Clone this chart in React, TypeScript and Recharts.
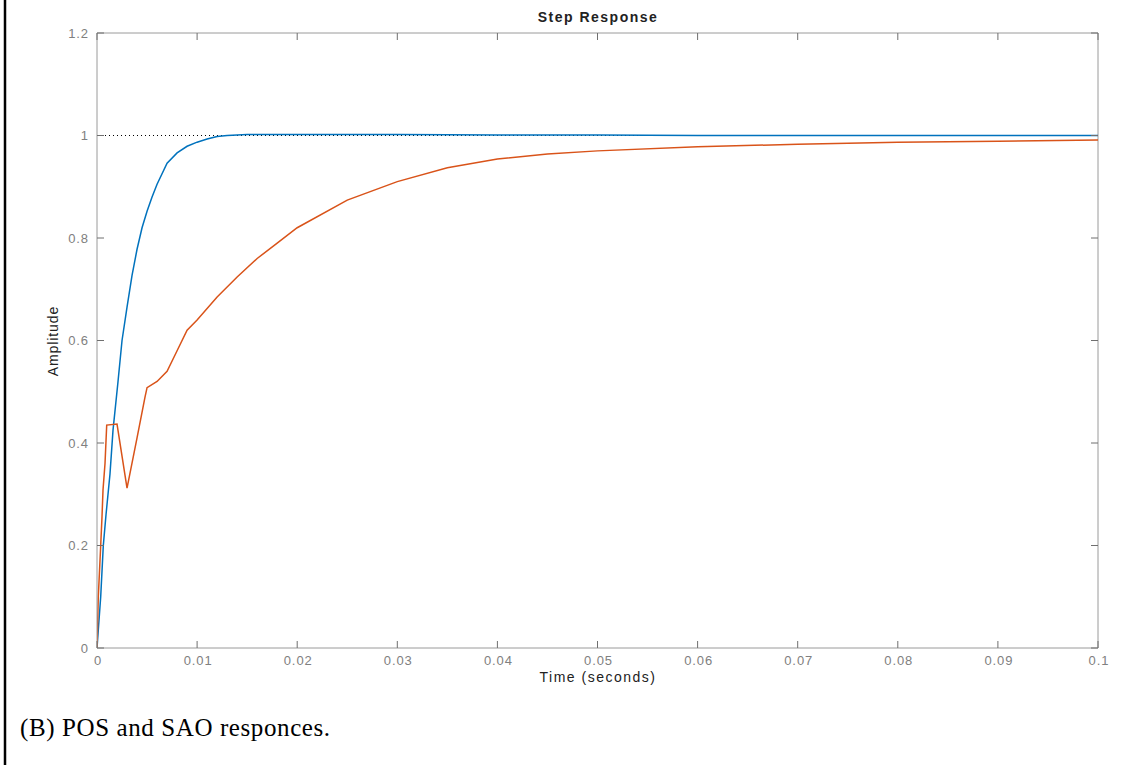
import React from "react";
import { LineChart, Line, XAxis, YAxis, ReferenceLine } from "recharts";

// ---- data ----
const posTime = [0, 0.00013, 0.00037, 0.00063, 0.0009, 0.0013, 0.0016, 0.0021, 0.0025, 0.003, 0.0035, 0.004, 0.0045, 0.005, 0.0055, 0.006, 0.007, 0.008, 0.009, 0.01, 0.011, 0.012, 0.013, 0.015, 0.02, 0.03, 0.04, 0.05, 0.06, 0.07, 0.08, 0.09, 0.1];
const posValue = [0, 0.035, 0.1, 0.2, 0.26, 0.34, 0.425, 0.52, 0.6, 0.665, 0.727, 0.778, 0.82, 0.852, 0.88, 0.905, 0.946, 0.966, 0.979, 0.987, 0.993, 0.998, 1.0, 1.002, 1.002, 1.002, 1.001, 1.001, 1.0, 1.0, 1.0, 1.0, 1.0];

const saoTime = [0, 0.00013, 0.00037, 0.0005, 0.0006, 0.0008, 0.00097, 0.002, 0.003, 0.004, 0.0048, 0.005, 0.006, 0.007, 0.008, 0.009, 0.01, 0.012, 0.014, 0.016, 0.018, 0.02, 0.025, 0.03, 0.035, 0.04, 0.045, 0.05, 0.06, 0.07, 0.08, 0.09, 0.1];
const saoValue = [0, 0.1, 0.2, 0.256, 0.308, 0.36, 0.435, 0.437, 0.312, 0.41, 0.49, 0.508, 0.52, 0.54, 0.58, 0.62, 0.64, 0.685, 0.724, 0.76, 0.79, 0.82, 0.874, 0.91, 0.937, 0.954, 0.964, 0.97, 0.978, 0.983, 0.987, 0.989, 0.991];

const referenceLevel = 1;
const referenceEnd = 0.077;

const xMax = 0.1;
const yMax = 1.2;
const xTicks = [0, 0.01, 0.02, 0.03, 0.04, 0.05, 0.06, 0.07, 0.08, 0.09, 0.1];
const xTickLabels = ["0", "0.01", "0.02", "0.03", "0.04", "0.05", "0.06", "0.07", "0.08", "0.09", "0.1"];
const yTicks = [0, 0.2, 0.4, 0.6, 0.8, 1, 1.2];
const yTickLabels = ["0", "0.2", "0.4", "0.6", "0.8", "1", "1.2"];

const titleText = "Step Response";
const xLabelText = "Time (seconds)";
const yLabelText = "Amplitude";
const captionText = "(B) POS and SAO responces.";

const posData = posTime.map((t, i) => ({ t, v: posValue[i] }));
const saoData = saoTime.map((t, i) => ({ t, v: saoValue[i] }));

const W = 1134;
const H = 767;
const M = { top: 33, right: 36, bottom: 89, left: 37 };
const Y_AXIS_W = 60;
const X_AXIS_H = 30;
const PLOT_W = W - M.left - M.right - Y_AXIS_W; // 1001
const PLOT_H = H - M.top - M.bottom - X_AXIS_H; // 615

const AXIS = "#9a9a9a";
const TICKLINE = "#6f6f6f";
const TICKTXT = "#808080";
const FONT = "'Liberation Sans', Arial, sans-serif";
const TL = 7; // inward tick length
const MB = 17; // bottom label margin
const ML = 8; // left label margin

const labelAt = (list: number[], labels: string[], v: number) => {
  let best = 0;
  list.forEach((t, i) => {
    if (Math.abs(t - v) < Math.abs(list[best] - v)) best = i;
  });
  return labels[best];
};

const BottomTick = (props: any) => {
  const { x, y, payload } = props;
  const ay = y - MB;
  const ty = ay - PLOT_H;
  return (
    <g>
      <line x1={x} y1={ay} x2={x} y2={ay - TL} stroke={TICKLINE} strokeWidth={1} />
      <line x1={x} y1={ty} x2={x} y2={ty + TL} stroke={TICKLINE} strokeWidth={1} />
      <text x={x + 1} y={y} textAnchor="middle" fill={TICKTXT} fontSize={13} fontFamily={FONT} letterSpacing={0.9}>
        {labelAt(xTicks, xTickLabels, payload.value)}
      </text>
    </g>
  );
};

const LeftTick = (props: any) => {
  const { x, y, payload } = props;
  const ax = x + ML;
  const rx = ax + PLOT_W;
  return (
    <g>
      <line x1={ax} y1={y} x2={ax + TL} y2={y} stroke={TICKLINE} strokeWidth={1} />
      <line x1={rx} y1={y} x2={rx - TL} y2={y} stroke={TICKLINE} strokeWidth={1} />
      <text x={x} y={y + 4.5} textAnchor="end" fill={TICKTXT} fontSize={13} fontFamily={FONT} letterSpacing={0.9}>
        {labelAt(yTicks, yTickLabels, payload.value)}
      </text>
    </g>
  );
};

export default function App() {
  return (
    <div style={{ position: "absolute", left: 0, top: 0, width: W, height: H, background: "#fff", overflow: "hidden" }}>
      <LineChart width={W} height={H} data={posData} margin={M}>
        <XAxis
          dataKey="t"
          type="number"
          domain={[0, xMax]}
          ticks={xTicks}
          allowDataOverflow
          height={X_AXIS_H}
          tickSize={0}
          tickMargin={MB}
          axisLine={{ stroke: AXIS }}
          tickLine={false}
          tick={(p: any) => <BottomTick {...p} />}
          interval={0}
        />
        <YAxis
          type="number"
          domain={[0, yMax]}
          ticks={yTicks}
          allowDataOverflow
          width={Y_AXIS_W}
          tickSize={0}
          tickMargin={ML}
          axisLine={{ stroke: AXIS }}
          tickLine={false}
          tick={(p: any) => <LeftTick {...p} />}
          interval={0}
        />
        <ReferenceLine y={yMax} stroke={AXIS} strokeWidth={1} />
        <ReferenceLine x={xMax} stroke={AXIS} strokeWidth={1} />
        <ReferenceLine
          segment={[{ x: 0, y: referenceLevel }, { x: referenceEnd, y: referenceLevel }]}
          stroke="#000"
          strokeDasharray="1 3"
          strokeWidth={1}
        />
        <Line data={posData} dataKey="v" type="linear" stroke="#0072BD" strokeWidth={1.5} dot={false} activeDot={false} isAnimationActive={false} />
        <Line data={saoData} dataKey="v" type="linear" stroke="#D95319" strokeWidth={1.5} dot={false} activeDot={false} isAnimationActive={false} />
      </LineChart>
      <svg width={W} height={H} style={{ position: "absolute", left: 0, top: 0, pointerEvents: "none" }}>
        <line x1={5} y1={0} x2={5} y2={765} stroke="#000" strokeWidth={2.5} />
        <text x={598} y={22} textAnchor="middle" fontFamily={FONT} fontWeight="bold" fontSize={14} letterSpacing={1.5} fill="#222">
          {titleText}
        </text>
        <text x={598} y={682} textAnchor="middle" fontFamily={FONT} fontSize={14} letterSpacing={1.5} fill="#222">
          {xLabelText}
        </text>
        <text
          x={58}
          y={341}
          textAnchor="middle"
          fontFamily={FONT}
          fontSize={14}
          letterSpacing={0.9}
          fill="#222"
          transform="rotate(-90 58 341)"
        >
          {yLabelText}
        </text>
        <text x={20} y={736} fontFamily="'Liberation Serif', 'Times New Roman', serif" fontSize={25} letterSpacing={0.6} fill="#000">
          {captionText}
        </text>
      </svg>
    </div>
  );
}
